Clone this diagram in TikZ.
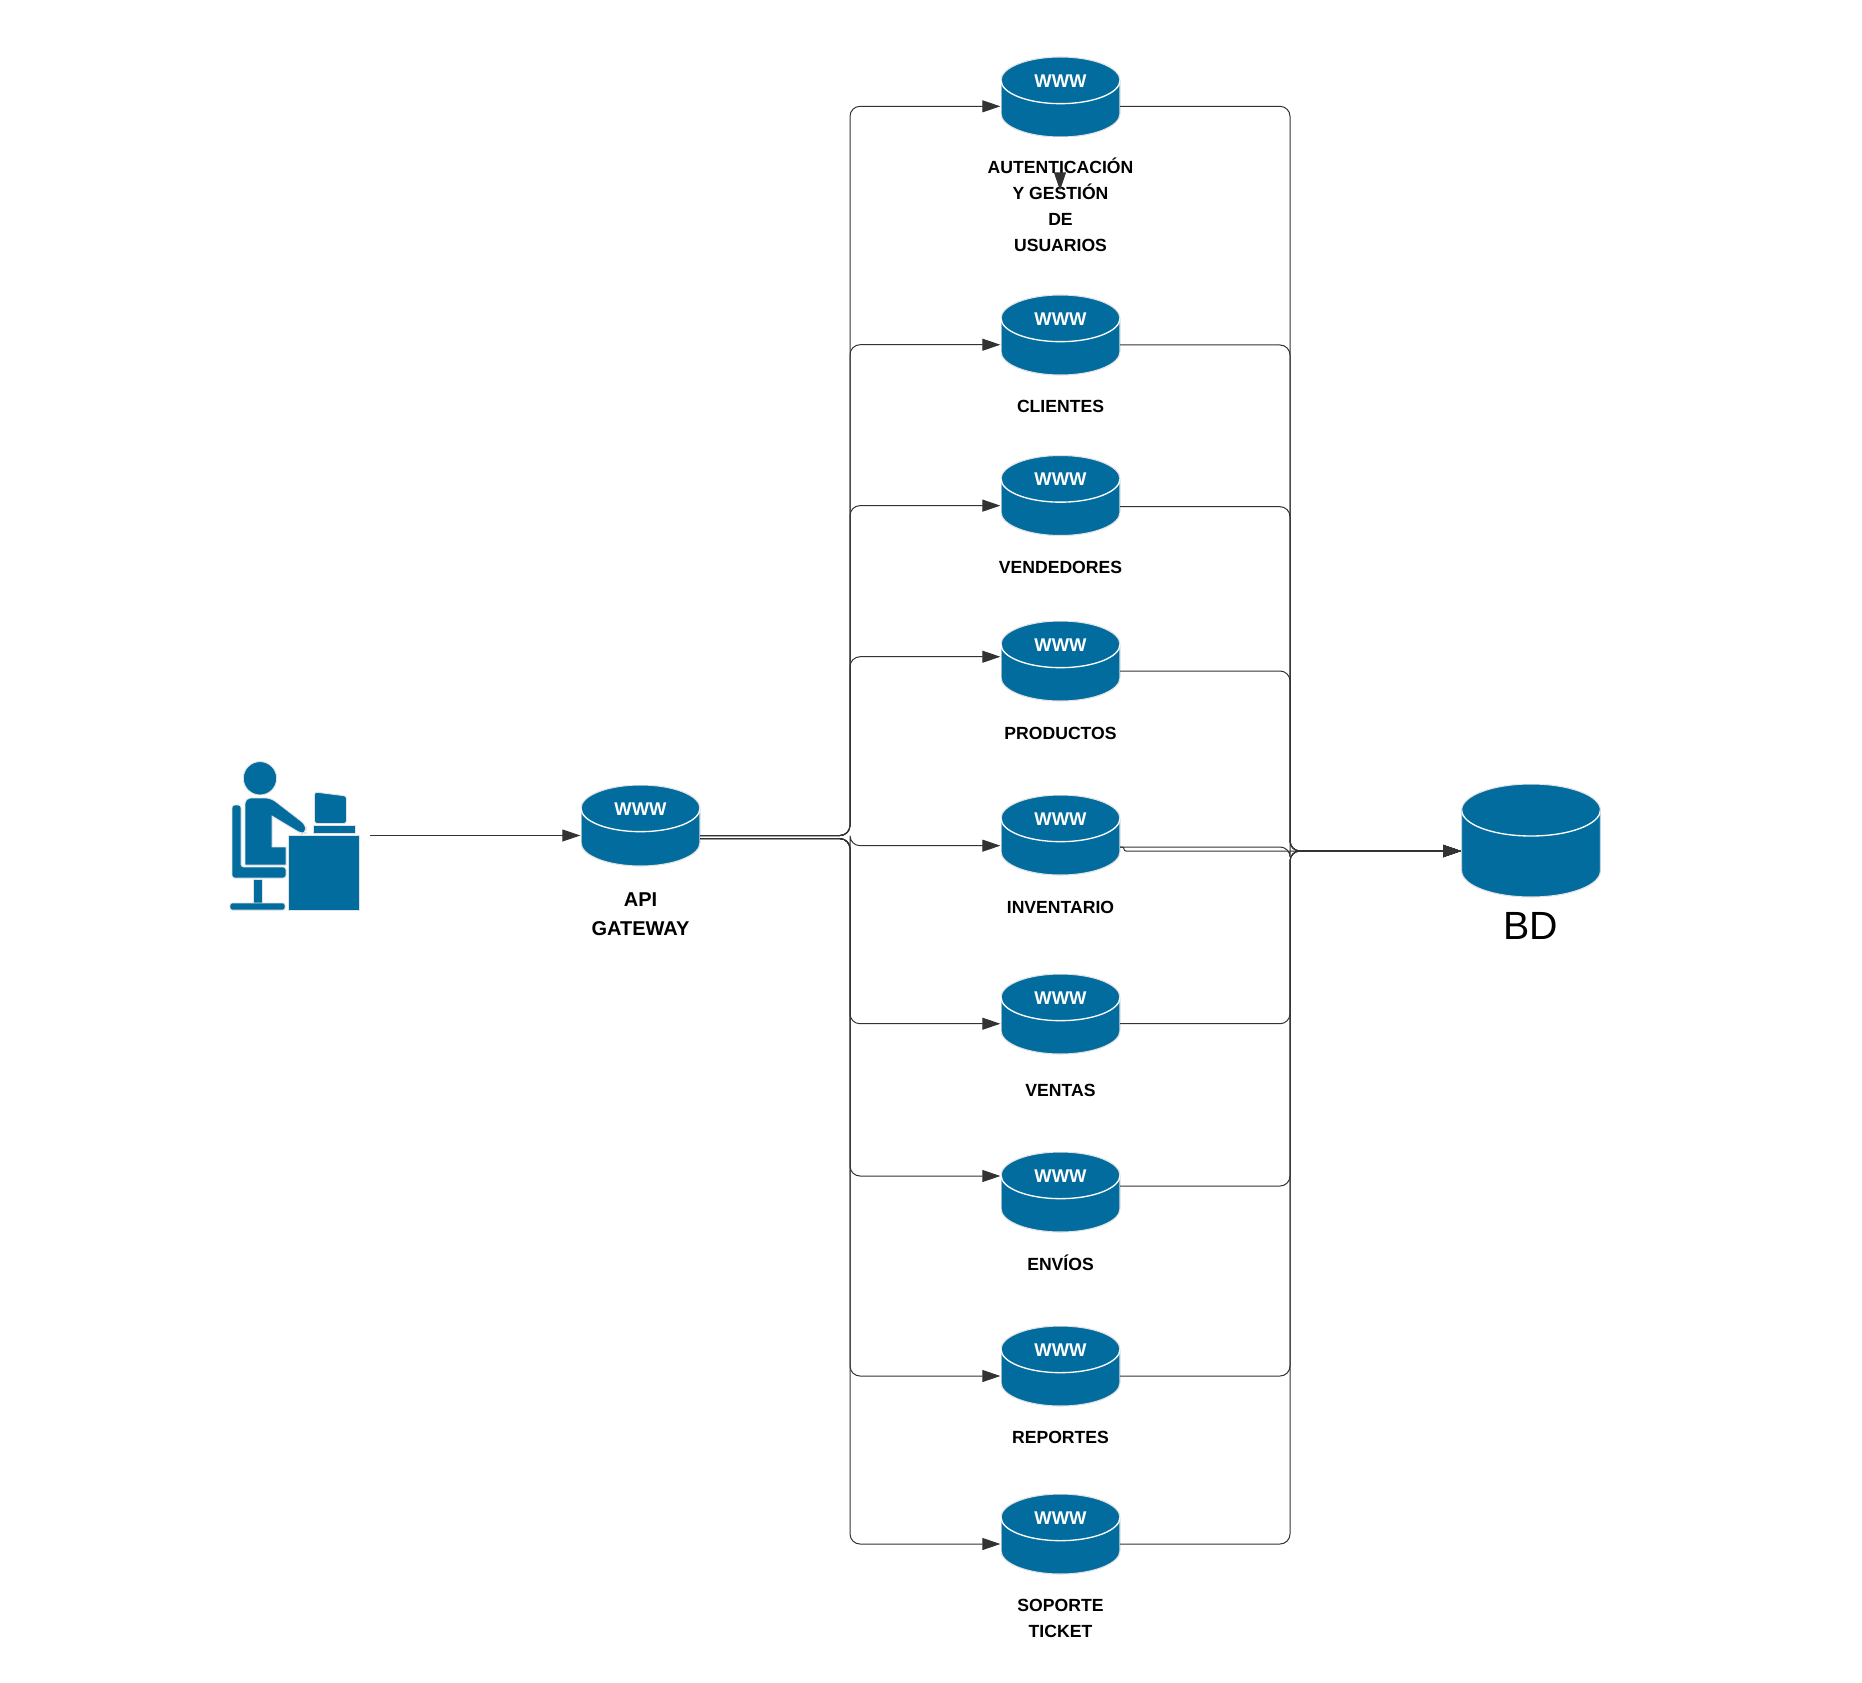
\documentclass[tikz,border=0pt]{standalone}
\usepackage{fontspec}
\usetikzlibrary{positioning,arrows.meta}
\setmainfont{Liberation Sans}
\definecolor{srvBlue}{HTML}{036C9E}
\definecolor{cylEdge}{HTML}{E2E2E2}
\definecolor{linkGray}{HTML}{333333}
\tikzset{
  cylNode/.style n args={3}{
    shape=rectangle, minimum width=#1, minimum height=#2, inner sep=0pt, outer sep=0pt,
    path picture={
      \draw[fill=srvBlue, draw=cylEdge, line width=.8pt]
        ([yshift=-#3]path picture bounding box.north west)
        arc[start angle=180, end angle=0, x radius=#1/2, y radius=#3]
        -- ([yshift=#3]path picture bounding box.south east)
        arc[start angle=0, end angle=-180, x radius=#1/2, y radius=#3] -- cycle;
      \draw[white, line width=1pt] ([yshift=-#3]path picture bounding box.north west)
        arc[start angle=180, end angle=360, x radius=#1/2, y radius=#3];}},
  srvNode/.style={
    cylNode={89.25pt}{60pt}{17.5pt},
    label={[wwwText]center:WWW}},
  apiNode/.style={
    cylNode={89.25pt}{60.75pt}{17.5pt},
    label={[wwwText]center:WWW}},
  dbNode/.style={cylNode={104pt}{84.75pt}{19.5pt}},
  wwwText/.style={text=white, inner sep=0pt, yshift=12pt,
    font=\fontsize{13.8}{16}\selectfont\bfseries},
  srvLabel/.style={inner sep=0pt, align=center, text=black,
    font=\fontsize{13.2}{19.5}\selectfont\bfseries},
  apiLabel/.style={inner sep=0pt, align=center, text=black,
    font=\fontsize{15}{21.5}\selectfont\bfseries},
  dbLabel/.style={inner sep=0pt, text=black, font=\fontsize{29.5}{30}\selectfont},
  link/.style={draw=linkGray, line width=.75pt, rounded corners=7.5pt,
    -{Triangle[length=13.5pt, width=9pt]}, shorten >=.5pt},
  figure/.style={fill=srvBlue, draw=cylEdge, line width=.6pt},
}
\begin{document}
\begin{tikzpicture}[x = 0.75pt, y = -0.75pt]
\useasboundingbox[fill=white] (0,0) rectangle (1862,1683);

\fill[figure] (260,778.3) circle (12.5pt);
\draw[figure] (245,865) -- (245,805) [rounded corners=4pt] -- (245,798) -- (271,798) -- (306,825) -- (306,833) -- (302,834) [sharp corners] -- (272,816) -- (272,847) -- (286,847) -- (286,865) -- cycle;
\draw[figure, rounded corners=2pt] (232,805) -- (241,805) -- (241,867) -- (286,867) -- (286,878) -- (232,878) -- cycle;
\draw[figure] (253.5,879) rectangle (262.5,903);
\draw[figure, rounded corners=1.5pt] (230,910) -- (230,903) -- (285,903) -- (285,910) -- cycle;
\draw[figure] (288,835) rectangle (359,910);
\draw[figure] (313,825.5) rectangle (355,833);
\draw[figure, rounded corners=2pt] (314.5,792) -- (346.5,796) -- (346.5,823.5) -- (314.5,823.5) -- cycle;
\coordinate (userOut) at (370,835.5);

\node[apiNode] (apiGateway) at (640.5,825.5) {};
\node[apiLabel, below=20pt of apiGateway] (apiText) {API\\GATEWAY};

\node[srvNode] (authSvc) at (1060.5,97) {};
\node[srvNode] (clientSvc) at (1060.5,335) {};
\node[srvNode] (sellerSvc) at (1060.5,495.5) {};
\node[srvNode] (productSvc) at (1060.5,661) {};
\node[srvNode] (stockSvc) at (1060.5,835) {};
\node[srvNode] (salesSvc) at (1060.5,1014) {};
\node[srvNode] (shipSvc) at (1060.5,1192) {};
\node[srvNode] (reportSvc) at (1060.5,1366) {};
\node[srvNode] (ticketSvc) at (1060.5,1534) {};
\node[dbNode] (dataBase) at (1531,840.5) {};

\node[srvLabel, below=15.5pt of authSvc] (authText) {AUTENTICACIÓN\\Y GESTIÓN\\DE\\USUARIOS};
\node[srvLabel, below=18.5pt of clientSvc] (clientText) {CLIENTES};
\node[srvLabel, below=19pt of sellerSvc] (sellerText) {VENDEDORES};
\node[srvLabel, below=19.5pt of productSvc] (productText) {PRODUCTOS};
\node[srvLabel, below=19.5pt of stockSvc] (stockText) {INVENTARIO};
\node[srvLabel, below=22.5pt of salesSvc] (salesText) {VENTAS};
\node[srvLabel, below=17pt of shipSvc] (shipText) {ENVÍOS};
\node[srvLabel, below=18.5pt of reportSvc] (reportText) {REPORTES};
\node[srvLabel, below=18.5pt of ticketSvc] (ticketText) {SOPORTE\\TICKET};
\node[dbLabel, below=11.5pt of dataBase] (dbText) {BD};

\coordinate (busUp) at (850,835.5);
\coordinate (busDown) at (850,838.7);
\coordinate (busRight) at (1290,851);
\coordinate (stubTop) at (1060,174);
\coordinate (stubEnd) at (1060,191);

\draw[link] (userOut) -- ([yshift=-7.5pt]apiGateway.west);

\draw[link] ([yshift=-7.5pt]apiGateway.east) -- (busUp) |- ([yshift=-7pt]authSvc.west);
\draw[link] ([yshift=-7.5pt]apiGateway.east) -- (busUp) |- ([yshift=-7.3pt]clientSvc.west);
\draw[link] ([yshift=-7.5pt]apiGateway.east) -- (busUp) |- ([yshift=-7.6pt]sellerSvc.west);
\draw[link] ([yshift=-7.5pt]apiGateway.east) -- (busUp) |- ([yshift=3.2pt]productSvc.west);
\draw[link] ([yshift=-9.9pt]apiGateway.east) -- (busDown) |- ([yshift=-8pt]stockSvc.west);
\draw[link] ([yshift=-9.9pt]apiGateway.east) -- (busDown) |- ([yshift=-7.3pt]salesSvc.west);
\draw[link] ([yshift=-9.9pt]apiGateway.east) -- (busDown) |- ([yshift=12pt]shipSvc.west);
\draw[link] ([yshift=-9.9pt]apiGateway.east) -- (busDown) |- ([yshift=-7.5pt]reportSvc.west);
\draw[link] ([yshift=-9.9pt]apiGateway.east) -- (busDown) |- ([yshift=-7.5pt]ticketSvc.west);

\draw[link] ([yshift=-7pt]authSvc.east) -| (busRight) -- ([yshift=-7.9pt]dataBase.west);
\draw[link] ([yshift=-7.5pt]clientSvc.east) -| (busRight) -- ([yshift=-7.9pt]dataBase.west);
\draw[link] ([yshift=-8.4pt]sellerSvc.east) -| (busRight) -- ([yshift=-7.9pt]dataBase.west);
\draw[link] ([yshift=-7.5pt]productSvc.east) -| (busRight) -- ([yshift=-7.9pt]dataBase.west);
\draw[link] ([yshift=-9pt]stockSvc.east) -| (busRight) -- ([yshift=-7.9pt]dataBase.west);
\draw[link, rounded corners=1.5pt] ([yshift=-9pt]stockSvc.east) -- ++(4,0) |- ([yshift=-7.9pt]dataBase.west);
\draw[link] ([yshift=-7.3pt]salesSvc.east) -| (busRight) -- ([yshift=-7.9pt]dataBase.west);
\draw[link] ([yshift=4.5pt]shipSvc.east) -| (busRight) -- ([yshift=-7.9pt]dataBase.west);
\draw[link] ([yshift=-7.5pt]reportSvc.east) -| (busRight) -- ([yshift=-7.9pt]dataBase.west);
\draw[link] ([yshift=-7.5pt]ticketSvc.east) -| (busRight) -- ([yshift=-7.9pt]dataBase.west);

\draw[link] (stubTop) -- (stubEnd);
\end{tikzpicture}
\end{document}
